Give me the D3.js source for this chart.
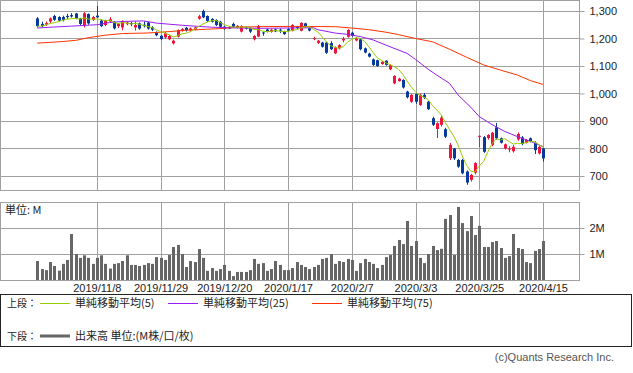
<!DOCTYPE html>
<html>
<head>
<meta charset="utf-8">
<script src="https://cdn.jsdelivr.net/npm/d3@7"></script>
<style>
  body { margin: 0; background: #fff; }
  svg { display: block; }
  text { font-family: "Liberation Sans", Arial, sans-serif; fill: #222; }
  .jp { font-family: "Noto Sans CJK JP", "Liberation Sans", sans-serif; }
</style>
</head>
<body>
<div id="chart"></div>
<script>
// trading days
var dates = [
  "2019/10/17","2019/10/18","2019/10/21","2019/10/23","2019/10/24","2019/10/25","2019/10/28","2019/10/29","2019/10/30","2019/10/31",
  "2019/11/1","2019/11/5","2019/11/6","2019/11/7","2019/11/8","2019/11/11","2019/11/12","2019/11/13","2019/11/14","2019/11/15",
  "2019/11/18","2019/11/19","2019/11/20","2019/11/21","2019/11/22","2019/11/25","2019/11/26","2019/11/27","2019/11/28","2019/11/29",
  "2019/12/2","2019/12/3","2019/12/4","2019/12/5","2019/12/6","2019/12/9","2019/12/10","2019/12/11","2019/12/12","2019/12/13",
  "2019/12/16","2019/12/17","2019/12/18","2019/12/19","2019/12/20","2019/12/23","2019/12/24","2019/12/25","2019/12/26","2019/12/27",
  "2019/12/30","2020/1/6","2020/1/7","2020/1/8","2020/1/9","2020/1/10","2020/1/14","2020/1/15","2020/1/16","2020/1/17",
  "2020/1/20","2020/1/21","2020/1/22","2020/1/23","2020/1/24","2020/1/27","2020/1/28","2020/1/29","2020/1/30","2020/1/31",
  "2020/2/3","2020/2/4","2020/2/5","2020/2/6","2020/2/7","2020/2/10","2020/2/12","2020/2/13","2020/2/14","2020/2/17",
  "2020/2/18","2020/2/19","2020/2/20","2020/2/21","2020/2/25","2020/2/26","2020/2/27","2020/2/28","2020/3/2","2020/3/3",
  "2020/3/4","2020/3/5","2020/3/6","2020/3/9","2020/3/10","2020/3/11","2020/3/12","2020/3/13","2020/3/16","2020/3/17",
  "2020/3/18","2020/3/19","2020/3/23","2020/3/24","2020/3/25","2020/3/26","2020/3/27","2020/3/30","2020/3/31","2020/4/1",
  "2020/4/2","2020/4/3","2020/4/6","2020/4/7","2020/4/8","2020/4/9","2020/4/10","2020/4/13","2020/4/14","2020/4/15"
];

var openP = [
  1273,1253,1250,1262,1282,1278,1278,1282,1285,1291, 1273,1249,1289,1268,1283,1265,1249,1262,1261,1245,
  1240,1252,1256,1240,1255,1250,1258,1240,1222,1210, 1204,1197,1182,1207,1229,1239,1230,1233,1272,1300,
  1282,1271,1267,1261,1243,1240,1253,1240,1225,1240, 1237,1197,1207,1222,1233,1224,1233,1232,1225,1234,
  1228,1243,1228,1255,1237,1198,1184,1185,1185,1183, 1146,1164,1193,1206,1221,1193,1197,1164,1145,1124,
  1121,1107,1119,1088,1037,1045,1049,1007,970,998, 958,995,970,910,871,886,870,765,800,758,
  758,716,686,712,843,841,838,813,877,837, 800,796,790,833,840,821,837,821,782,800
];
var highP = [
  1278,1261,1262,1276,1286,1281,1283,1290,1292,1293, 1275,1296,1291,1282,1318,1270,1268,1278,1263,1256,
  1266,1262,1260,1262,1258,1262,1260,1245,1226,1212, 1223,1213,1196,1233,1238,1242,1240,1243,1286,1305,
  1284,1274,1270,1264,1246,1244,1258,1249,1248,1244, 1240,1212,1249,1225,1236,1235,1236,1236,1228,1238,
  1252,1246,1259,1257,1240,1206,1195,1188,1188,1190, 1171,1179,1206,1234,1224,1203,1200,1167,1148,1127,
  1123,1118,1121,1106,1066,1057,1052,1010,998,1000, 1000,1002,973,916,895,918,875,820,802,762,
  762,720,708,750,847,845,852,860,893,840, 818,808,812,858,845,834,840,826,810,802
];
var lowP = [
  1240,1241,1246,1256,1264,1262,1262,1270,1276,1270, 1248,1240,1250,1264,1275,1242,1245,1258,1233,1238,
  1230,1248,1245,1229,1232,1240,1232,1227,1208,1194, 1200,1194,1178,1204,1225,1225,1226,1230,1268,1274,
  1260,1258,1245,1240,1232,1235,1240,1236,1222,1233, 1220,1193,1205,1210,1222,1221,1223,1220,1213,1225,
  1226,1235,1226,1238,1226,1194,1180,1167,1144,1158, 1143,1160,1186,1203,1206,1190,1157,1146,1131,1100,
  1097,1105,1101,1085,1034,1043,1018,982,966,962, 955,980,940,882,838,880,838,758,758,730,
  706,668,680,706,805,784,832,808,832,818, 796,786,785,828,812,818,822,780,778,752
];
var closeP = [
  1245,1245,1256,1273,1268,1265,1268,1278,1280,1273, 1253,1292,1255,1278,1277,1245,1265,1270,1237,1253,
  1264,1258,1252,1249,1236,1245,1236,1232,1212,1198, 1219,1209,1192,1231,1234,1230,1236,1240,1281,1277,
  1264,1261,1249,1243,1235,1238,1243,1246,1245,1237, 1225,1209,1245,1219,1225,1232,1226,1229,1216,1228,
  1249,1238,1257,1241,1229,1201,1192,1170,1148,1161, 1168,1176,1199,1231,1210,1199,1161,1149,1134,1104,
  1100,1115,1104,1103,1064,1054,1022,986,995,970, 995,985,943,886,892,912,843,813,764,734,
  710,676,704,747,846,788,849,857,837,821, 815,800,806,853,816,831,825,794,806,764
];
// volume, millions
var volume = [
  0.73,0.42,0.38,0.69,0.54,0.36,0.62,0.77,1.77,1.00, 0.85,0.95,0.85,0.62,0.85,0.95,0.62,0.44,0.62,0.65,
  0.73,0.95,0.58,0.58,0.54,0.58,0.65,0.62,0.88,0.85, 0.77,0.96,1.27,1.35,1.00,0.50,0.73,0.69,1.19,0.85,
  0.35,0.46,0.35,0.42,0.58,0.35,0.15,0.31,0.31,0.31, 0.38,0.81,0.62,0.65,0.35,0.42,0.73,0.58,0.38,0.38,
  0.46,0.69,0.58,0.50,0.42,0.50,0.58,0.81,0.85,1.00, 0.62,0.73,0.69,0.81,0.77,0.35,0.65,0.81,0.69,0.62,
  0.46,0.58,0.88,0.96,1.31,1.54,1.38,2.27,1.31,1.50, 0.85,0.65,1.00,1.31,1.15,1.20,2.35,2.50,0.96,2.81,
  2.19,1.88,2.46,1.73,2.08,1.27,1.27,1.46,1.50,1.23, 0.85,0.92,1.77,1.23,1.19,0.69,0.65,1.12,1.19,1.50
];

// moving averages
var ma25Dates = ["2019/10/17","2019/10/23","2019/10/30","2019/11/8","2019/11/13","2019/11/18","2019/11/25","2019/11/28",
  "2019/12/3","2019/12/9","2019/12/17","2019/12/23","2020/1/7","2020/1/17","2020/1/27","2020/1/28","2020/2/3","2020/2/6",
  "2020/2/12","2020/2/17","2020/2/21","2020/2/28","2020/3/3","2020/3/6","2020/3/10","2020/3/13","2020/3/17","2020/3/23",
  "2020/3/25","2020/3/30","2020/4/2","2020/4/7","2020/4/10","2020/4/15"];
var ma25Values = [1238,1241,1245,1250,1258,1262,1264,1256,
  1252,1247,1241,1239,1237,1238,1239,1232,1220,1215,
  1207,1195,1170,1146,1124,1088,1067,1037,995,950,
  916,887,862,843,826,807];

var ma75Dates = ["2019/10/17","2019/10/23","2019/10/28","2019/10/31","2019/11/6","2019/11/12","2019/11/18","2019/11/26",
  "2019/12/3","2019/12/9","2019/12/19","2019/12/25","2020/1/7","2020/1/20","2020/2/3","2020/2/7","2020/2/14","2020/2/20",
  "2020/2/26","2020/3/3","2020/3/9","2020/3/13","2020/3/19","2020/3/26","2020/4/1","2020/4/7","2020/4/10","2020/4/15"];
var ma75Values = [1183,1186,1189,1193,1203,1212,1218,1220,
  1225,1230,1236,1241,1243,1244,1243,1238,1232,1223,
  1214,1200,1188,1161,1132,1104,1085,1067,1047,1033];

var tickDates = ["2019/11/8","2019/11/29","2019/12/20","2020/1/17","2020/2/7","2020/3/3","2020/3/25","2020/4/15"];
var priceTicks = [700, 800, 900, 1000, 1100, 1200, 1300];
var volTicks = [1, 2];

var W = 633, H = 373;
var plotL = 0, plotR = 580;
var topY0 = 0, topY1 = 190;
var volY0 = 202, volY1 = 280;

var svg = d3.select("#chart").append("svg")
  .attr("width", W).attr("height", H);

var x = d3.scalePoint().domain(dates).range([37.3, 543]);
var y = d3.scaleLinear().domain([649, 1340]).range([topY1, topY0]);
var yv = d3.scaleLinear().domain([0, 3]).range([volY1, volY0]);

function px(v) { return Math.round(v) + 0.5; }

// ---- price panel ----
var pricePanel = svg.append("g");
pricePanel.selectAll(".hg").data(priceTicks).enter().append("line")
  .attr("x1", plotL).attr("x2", plotR)
  .attr("y1", function(d) { return px(y(d)); }).attr("y2", function(d) { return px(y(d)); })
  .attr("stroke", "#a0a0a0");
pricePanel.selectAll(".vg").data(tickDates).enter().append("line")
  .attr("x1", function(d) { return px(x(d)); }).attr("x2", function(d) { return px(x(d)); })
  .attr("y1", topY0).attr("y2", topY1)
  .attr("stroke", "#a0a0a0");
pricePanel.append("rect")
  .attr("x", plotL + 0.5).attr("y", topY0 + 0.5)
  .attr("width", plotR - plotL - 1).attr("height", topY1 - topY0)
  .attr("fill", "none").attr("stroke", "#a0a0a0");

var yAxis = svg.append("g")
  .attr("transform", "translate(" + (plotR - 0.5) + ",0)")
  .call(d3.axisRight(y).tickValues(priceTicks).tickFormat(d3.format(",")).tickSize(5).tickPadding(5));
yAxis.select(".domain").remove();
yAxis.selectAll("line").attr("stroke", "#a0a0a0");
yAxis.selectAll("text").attr("font-size", 11).attr("fill", "#222")
  .style("font-family", "'Liberation Sans', Arial, sans-serif");

var rows = dates.map(function(d, i) {
  return {date: d, o: openP[i], h: highP[i], l: lowP[i], c: closeP[i], v: volume[i]};
});

var line = d3.line()
  .x(function(d) { return x(d[0]); })
  .y(function(d) { return y(d[1]); });

var ma75 = ma75Dates.map(function(d, i) { return [d, ma75Values[i]]; });
var ma25 = ma25Dates.map(function(d, i) { return [d, ma25Values[i]]; });
// 5-day simple moving average of the closes
var ma5 = rows.map(function(r, i) {
  var s = closeP.slice(Math.max(0, i - 4), i + 1);
  return [r.date, d3.mean(s)];
});

var upColor = "#f0143c", downColor = "#063a9c";

var candles = pricePanel.selectAll(".candle").data(rows).enter().append("g");
candles.append("line")
  .attr("x1", function(d) { return px(x(d.date)); })
  .attr("x2", function(d) { return px(x(d.date)); })
  .attr("y1", function(d) { return y(d.h); })
  .attr("y2", function(d) { return y(d.l); })
  .attr("stroke", function(d) { return d.c >= d.o ? upColor : downColor; });
candles.append("rect")
  .attr("x", function(d) { return Math.round(x(d.date)) - 1; })
  .attr("width", 3)
  .attr("y", function(d) { return y(Math.max(d.o, d.c)); })
  .attr("height", function(d) { return Math.max(1, Math.abs(y(d.o) - y(d.c))); })
  .attr("fill", function(d) { return d.c >= d.o ? upColor : downColor; });

pricePanel.append("path").datum(ma75).attr("d", line)
  .attr("fill", "none").attr("stroke", "#ff3300").attr("stroke-width", 1);
pricePanel.append("path").datum(ma25).attr("d", line)
  .attr("fill", "none").attr("stroke", "#9a1cf0").attr("stroke-width", 1);
pricePanel.append("path").datum(ma5).attr("d", line)
  .attr("fill", "none").attr("stroke", "#99cc00").attr("stroke-width", 1);

// ---- volume panel ----
var vol = svg.append("g");
vol.selectAll(".hg").data(volTicks).enter().append("line")
  .attr("x1", plotL).attr("x2", plotR)
  .attr("y1", function(d) { return px(yv(d)); }).attr("y2", function(d) { return px(yv(d)); })
  .attr("stroke", "#a0a0a0");
vol.selectAll(".vg").data(tickDates).enter().append("line")
  .attr("x1", function(d) { return px(x(d)); }).attr("x2", function(d) { return px(x(d)); })
  .attr("y1", volY0).attr("y2", volY1)
  .attr("stroke", "#a0a0a0");
vol.append("rect")
  .attr("x", plotL + 0.5).attr("y", volY0 + 0.5)
  .attr("width", plotR - plotL - 1).attr("height", volY1 - volY0)
  .attr("fill", "none").attr("stroke", "#a0a0a0");

vol.selectAll(".bar").data(rows).enter().append("rect")
  .attr("x", function(d) { return Math.round(x(d.date)) - 1; })
  .attr("width", 3)
  .attr("y", function(d) { return yv(d.v); })
  .attr("height", function(d) { return volY1 - yv(d.v); })
  .attr("fill", "#666");

vol.append("text").attr("class", "jp")
  .attr("x", 5).attr("y", 214).attr("font-size", 11)
  .text("単位: M");

var vAxis = svg.append("g")
  .attr("transform", "translate(" + (plotR - 0.5) + ",0)")
  .call(d3.axisRight(yv).tickValues(volTicks).tickFormat(function(d) { return d + "M"; }).tickSize(5).tickPadding(5));
vAxis.select(".domain").remove();
vAxis.selectAll("line").attr("stroke", "#a0a0a0");
vAxis.selectAll("text").attr("font-size", 11).attr("fill", "#222")
  .style("font-family", "'Liberation Sans', Arial, sans-serif");

var xAxis = svg.append("g")
  .attr("transform", "translate(0," + volY1 + ")")
  .call(d3.axisBottom(x).tickValues(tickDates).tickSize(0).tickPadding(4));
xAxis.select(".domain").remove();
xAxis.selectAll("text").attr("font-size", 11).attr("fill", "#222")
  .style("font-family", "'Liberation Sans', Arial, sans-serif");

// ---- legend ----
var lg = svg.append("g");
lg.append("rect").attr("x", 0.5).attr("y", 294.5).attr("width", 631).attr("height", 52)
  .attr("fill", "none").attr("stroke", "#222");

var legendItems = [
  {label: "単純移動平均(5)", color: "#99cc00", x: 40},
  {label: "単純移動平均(25)", color: "#9a1cf0", x: 168},
  {label: "単純移動平均(75)", color: "#ff3300", x: 312}
];
lg.append("text").attr("class", "jp").attr("x", 7).attr("y", 307).attr("font-size", 10).text("上段：");
legendItems.forEach(function(it) {
  lg.append("line").attr("x1", it.x).attr("x2", it.x + 30).attr("y1", 303.5).attr("y2", 303.5)
    .attr("stroke", it.color);
  lg.append("text").attr("class", "jp").attr("x", it.x + 35).attr("y", 307).attr("font-size", 11).text(it.label);
});
lg.append("text").attr("class", "jp").attr("x", 7).attr("y", 340).attr("font-size", 10).text("下段：");
lg.append("line").attr("x1", 40).attr("x2", 70).attr("y1", 336).attr("y2", 336)
  .attr("stroke", "#666").attr("stroke-width", 3);
lg.append("text").attr("class", "jp").attr("x", 75).attr("y", 340).attr("font-size", 11).text("出来高 単位:(M株/口/枚)");

svg.append("text").attr("x", 614).attr("y", 361).attr("text-anchor", "end")
  .attr("font-size", 11).attr("fill", "#555").style("fill", "#555")
  .text("(c)Quants Research Inc.");
</script>
</body>
</html>
